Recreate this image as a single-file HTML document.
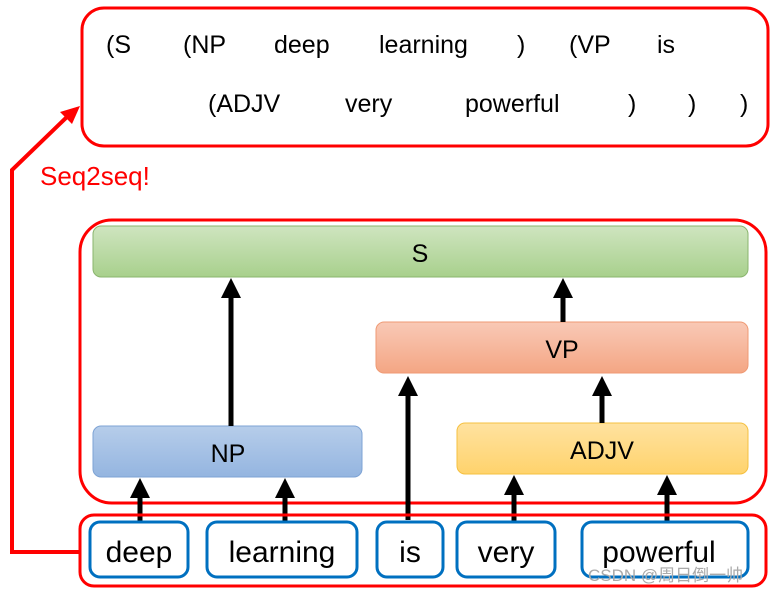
<!DOCTYPE html>
<html><head><style>body{margin:0;background:#fff}svg{display:block}text{font-family:"Liberation Sans","Noto Sans CJK SC",sans-serif}</style></head>
<body>
<svg width="774" height="591" viewBox="0 0 774 591" xmlns="http://www.w3.org/2000/svg">
<defs>
<linearGradient id="g" x1="0" y1="0" x2="0" y2="1"><stop offset="0" stop-color="#cfe5c0"/><stop offset="1" stop-color="#a8d08c"/></linearGradient>
<linearGradient id="o" x1="0" y1="0" x2="0" y2="1"><stop offset="0" stop-color="#f9c9b6"/><stop offset="1" stop-color="#f4a684"/></linearGradient>
<linearGradient id="b" x1="0" y1="0" x2="0" y2="1"><stop offset="0" stop-color="#b6cdea"/><stop offset="1" stop-color="#94b5e0"/></linearGradient>
<linearGradient id="y" x1="0" y1="0" x2="0" y2="1"><stop offset="0" stop-color="#ffe2a0"/><stop offset="1" stop-color="#ffd36c"/></linearGradient>
<marker id="ah" markerWidth="4" markerHeight="4" refX="2" refY="2" orient="auto" markerUnits="strokeWidth"><path d="M0,0 L4,2 L0,4z" fill="#000"/></marker>
</defs>
<rect x="82" y="8" width="686" height="138" rx="22" fill="none" stroke="#f00" stroke-width="3"/>
<g font-size="25" fill="#000">
<text x="106" y="53">(S</text><text x="183" y="53">(NP</text><text x="274" y="53">deep</text><text x="379" y="53">learning</text><text x="517" y="53">)</text><text x="569" y="53">(VP</text><text x="657" y="53">is</text>
<text x="208" y="112">(ADJV</text><text x="345" y="112">very</text><text x="465" y="112">powerful</text><text x="628" y="112">)</text><text x="688" y="112">)</text><text x="740" y="112">)</text>
</g>
<polyline points="80,552 12,552 12,170 70,114" fill="none" stroke="#f00" stroke-width="4"/>
<path d="M80,106 L60,112 L72,124z" fill="#f00"/>
<text x="40" y="185" font-size="26" fill="#f00">Seq2seq!</text>
<rect x="80" y="220" width="686" height="283" rx="32" fill="none" stroke="#f00" stroke-width="3"/>
<rect x="93" y="226" width="655" height="51" rx="8" fill="url(#g)" stroke="#8ab56e"/>
<text x="420" y="262" font-size="25" text-anchor="middle">S</text>
<rect x="376" y="322" width="372" height="51" rx="8" fill="url(#o)" stroke="#ef9a74"/>
<text x="562" y="358" font-size="25" text-anchor="middle">VP</text>
<rect x="93" y="426" width="269" height="51" rx="8" fill="url(#b)" stroke="#7ea3d4"/>
<text x="228" y="462" font-size="25" text-anchor="middle">NP</text>
<rect x="457" y="423" width="291" height="51" rx="8" fill="url(#y)" stroke="#f5c040"/>
<text x="602" y="459" font-size="25" text-anchor="middle">ADJV</text>
<g stroke="#000" stroke-width="5">
<line x1="231" y1="426" x2="231" y2="288" marker-end="url(#ah)"/>
<line x1="563" y1="322" x2="563" y2="288" marker-end="url(#ah)"/>
<line x1="408" y1="520" x2="408" y2="386" marker-end="url(#ah)"/>
<line x1="602" y1="423" x2="602" y2="386" marker-end="url(#ah)"/>
<line x1="140" y1="522" x2="140" y2="488" marker-end="url(#ah)"/>
<line x1="285" y1="522" x2="285" y2="488" marker-end="url(#ah)"/>
<line x1="514" y1="522" x2="514" y2="485" marker-end="url(#ah)"/>
<line x1="667" y1="522" x2="667" y2="485" marker-end="url(#ah)"/>
</g>
<rect x="80" y="515" width="686" height="71" rx="14" fill="none" stroke="#f00" stroke-width="3"/>
<g fill="#fff" stroke="#0070c0" stroke-width="3">
<rect x="90" y="522" width="98" height="55" rx="10"/>
<rect x="207" y="522" width="150" height="55" rx="10"/>
<rect x="377" y="522" width="66" height="55" rx="10"/>
<rect x="457" y="522" width="98" height="55" rx="10"/>
<rect x="582" y="522" width="166" height="55" rx="10"/>
</g>
<g font-size="30" text-anchor="middle">
<text x="139" y="562">deep</text><text x="282" y="562">learning</text><text x="410" y="562">is</text><text x="506" y="562">very</text><text x="659" y="562">powerful</text>
</g>
<text x="588" y="581" font-size="17" fill="#aaa">CSDN @周日倒一帅</text>
</svg>
</body></html>
